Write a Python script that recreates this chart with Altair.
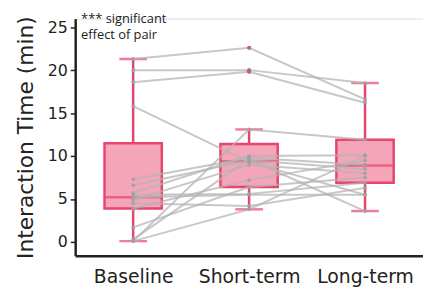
import altair as alt
import pandas as pd

phases = ["Baseline", "Short-term", "Long-term"]

# per-pair interaction time (min)
baseline = [21.3, 20.0, 18.6, 15.8, 7.3, 6.6, 5.7, 5.2, 4.9, 4.5, 3.9, 1.7, 0.1, 0.1, 0.3, 5.5]
short_term = [22.6, 20.0, 19.8, 9.3, 9.8, 9.5, 10.0, 5.5, 9.0, 4.2, 7.2, 6.4, 13.1, 3.8, 9.6, 5.6]
long_term = [16.6, 18.5, 16.2, 5.5, 9.0, 8.5, 10.1, 5.5, 8.0, 6.3, 9.5, 7.5, 11.9, 10.0, 3.6, 6.9]

# box summaries
box_low = [0.1, 3.8, 3.6]
box_q1 = [3.9, 6.4, 6.9]
box_median = [5.2, 9.4, 8.9]
box_q3 = [11.5, 11.4, 11.9]
box_high = [21.3, 13.1, 18.5]

outlier_phase = ["Short-term", "Short-term", "Short-term"]
outlier_value = [22.6, 20.0, 19.8]

rows = []
for i in range(len(baseline)):
    for ph, vals in zip(phases, [baseline, short_term, long_term]):
        rows.append({"pair": i, "phase": ph, "value": vals[i]})
pts = pd.DataFrame(rows)
box = pd.DataFrame({"phase": phases, "low": box_low, "q1": box_q1, "median": box_median,
                    "q3": box_q3, "high": box_high})
outl = pd.DataFrame({"phase": outlier_phase, "value": outlier_value})

RED = "#e8456d"
FILL = "#f5a5b9"

xenc = alt.X("phase:N", sort=phases, title=None,
             scale=alt.Scale(type="point", padding=0.5),
             axis=alt.Axis(labelAngle=0, ticks=False, labelPadding=12, labelFontSize=19,
                           labelFont="DejaVu Sans", labelColor="#222", domainColor="#222",
                           domainWidth=2.5, grid=False))
yscale = alt.Scale(domain=[-1.6, 26], nice=False, zero=False)

base = alt.Chart(box)

whisk_lo = base.mark_rule(color=RED, strokeWidth=2.5).encode(
    x=xenc,
    y=alt.Y("low:Q", scale=yscale, title="Interaction Time (min)",
            axis=alt.Axis(values=[0, 5, 10, 15, 20, 25], tickSize=5, tickWidth=1.5, tickColor="#222",
                          labelFontSize=16, labelFont="DejaVu Sans", labelColor="#222",
                          labelPadding=3, domainColor="#222", domainWidth=2.5, grid=False,
                          titleFontSize=22, titleFont="DejaVu Sans", titleFontWeight="normal",
                          titleColor="#222", titlePadding=10)),
    y2="q1:Q")
whisk_hi = base.mark_rule(color=RED, strokeWidth=2.5).encode(x=xenc, y=alt.Y("q3:Q", scale=yscale), y2="high:Q")
cap_lo = base.mark_tick(color=RED, size=28, thickness=2.5, orient="horizontal").encode(
    x=xenc, y=alt.Y("low:Q", scale=yscale))
cap_hi = base.mark_tick(color=RED, size=28, thickness=2.5, orient="horizontal").encode(
    x=xenc, y=alt.Y("high:Q", scale=yscale))
boxes = base.mark_bar(fill=FILL, stroke=RED, strokeWidth=2.5, size=58).encode(
    x=xenc, y=alt.Y("q1:Q", scale=yscale), y2="q3:Q")
med = base.mark_tick(color=RED, size=58, thickness=2.5, orient="horizontal").encode(
    x=xenc, y=alt.Y("median:Q", scale=yscale))

lines = alt.Chart(pts).mark_line(color="#b4b4b4", strokeWidth=2, opacity=0.75).encode(
    x=xenc, y=alt.Y("value:Q", scale=yscale), detail="pair:N")
dots = alt.Chart(pts).mark_circle(color="#a0a0a0", size=14, opacity=0.9).encode(
    x=xenc, y=alt.Y("value:Q", scale=yscale))
odots = alt.Chart(outl).mark_circle(color="#c0607a", size=16, opacity=1).encode(
    x=xenc, y=alt.Y("value:Q", scale=yscale))

note = alt.Chart(pd.DataFrame({"t": ["*** significant\neffect of pair"]})).mark_text(
    align="left", baseline="top", lineBreak="\n", lineHeight=17, font="Open Sans",
    fontSize=13, color="#222").encode(x=alt.value(6), y=alt.value(-6), text="t:N")

chart = alt.layer(whisk_lo, whisk_hi, cap_lo, cap_hi, boxes, med, lines, dots, odots, note).properties(
    width=352, height=240,
    autosize=alt.AutoSizeParams(type="none"),
    padding={"left": 68, "top": 9, "right": 0, "bottom": 36},
).configure_view(stroke=None).configure(background="white")

chart.save("out.html", embed_options={"renderer": "svg", "actions": False})
